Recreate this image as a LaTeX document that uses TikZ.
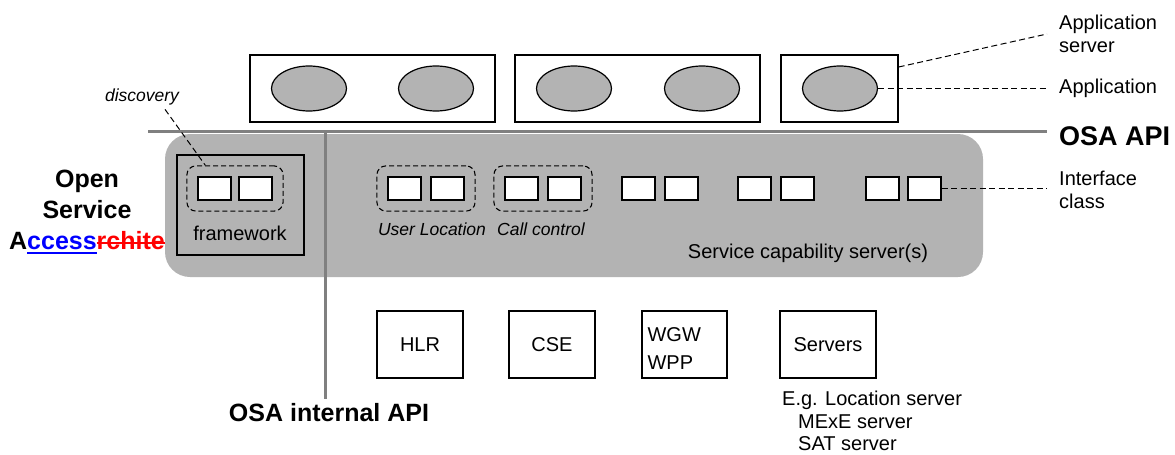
\documentclass[tikz,border=0pt]{standalone}
\usepackage{fontspec}
\setmainfont{Liberation Sans}
\usetikzlibrary{positioning,shapes.geometric,fit,calc}

\definecolor{scsgray}{RGB}{179,179,179}
\definecolor{apigray}{RGB}{128,128,128}

% thick underline and strike-out bars in the current colour
\newcommand{\ulbar}[1]{\setbox0\hbox{#1}\rlap{\rule[-4.5pt]{\wd0}{2pt}}\box0}
\newcommand{\strikebar}[1]{\setbox0\hbox{#1}\rlap{\rule[5.5pt]{\wd0}{2pt}}\box0}

\begin{document}
\begin{tikzpicture}[x=1pt,y=-1pt,
    every node/.style={inner sep=0pt, font=\fontsize{20}{23}\selectfont},
    plainbox/.style={draw, line width=1.2pt, fill=white},
    appnode/.style={ellipse, draw, line width=1.2pt, fill=scsgray,
      minimum width=75pt, minimum height=45pt},
    ifbox/.style={draw, line width=1.2pt, fill=white,
      minimum width=33pt, minimum height=23pt},
    ifgroup/.style={draw, dash pattern=on 5pt off 3pt, line width=1.1pt,
      rounded corners=9pt, inner sep=10.5pt},
    leader/.style={draw, dash pattern=on 6pt off 3.5pt, line width=1pt},
    apiline/.style={apigray, line width=3pt},
    bigbold/.style={font=\fontsize{25}{31}\selectfont\bfseries},
    itlabel/.style={font=\fontsize{17.5}{20}\selectfont\itshape}
  ]

    % Fix the page to the size of the original figure
    \useasboundingbox (0,0) rectangle (1175,455);

    % Service capability area (grey rounded block)
    \node[fill=scsgray, rounded corners=25pt,
      minimum width=818pt, minimum height=143pt] (scs) at (574,205.5) {};

    % OSA API line and OSA internal API line
    \coordinate (api-w) at (148,131);
    \coordinate (api-e) at (1047,131);
    \draw[apiline] (api-w) -- (api-e);
    \node[bigbold] (int-lbl) at (329,413) {OSA internal API};
    \coordinate (int-n) at (325,131);
    \draw[apiline] (int-n) -- ($(int-n |- int-lbl.north)+(0,-5)$);

    % Application servers with their applications
    \node[plainbox, minimum width=245pt, minimum height=67pt] (as1) at (372.5,88.5) {};
    \node[plainbox, minimum width=245pt, minimum height=67pt] (as2) at (637.5,88.5) {};
    \node[plainbox, minimum width=117pt, minimum height=67pt] (as3) at (839.5,88.5) {};
    \node[appnode] (app1) at (309,88.5) {};
    \node[appnode] (app2) at (436,88.5) {};
    \node[appnode] (app3) at (574,88.5) {};
    \node[appnode] (app4) at (702,88.5) {};
    \node[appnode] (app5) at (840,88.5) {};

    % Framework with its discovery interface
    \node[draw, line width=1.2pt, minimum width=127pt, minimum height=100pt] (fw) at (240.5,205) {};
    \node[ifbox] (fw-a) at (214.5,188.5) {};
    \node[ifbox] (fw-b) at (255.5,188.5) {};
    \node[ifgroup, fit=(fw-a)(fw-b)] (fw-grp) {};
    \node (fw-lbl) at (240,233) {framework};
    \node[itlabel] (disc) at (142,97) {discovery};
    \draw[leader] ([xshift=23pt,yshift=-4pt]disc.south) -- ([xshift=19pt]fw-grp.north west);

    % Interface classes of the service capability servers
    \node[ifbox] (ul-a) at (404.5,188.5) {};
    \node[ifbox] (ul-b) at (447.5,188.5) {};
    \node[ifgroup, fit=(ul-a)(ul-b)] (ul-grp) {};
    \node[itlabel] (ul-lbl) at (432,229) {User Location};

    \node[ifbox] (cc-a) at (521.5,188.5) {};
    \node[ifbox] (cc-b) at (564.5,188.5) {};
    \node[ifgroup, fit=(cc-a)(cc-b)] (cc-grp) {};
    \node[itlabel] (cc-lbl) at (541,229) {Call control};

    \node[ifbox] (if3-a) at (638.5,188.5) {};
    \node[ifbox] (if3-b) at (681.5,188.5) {};
    \node[ifbox] (if4-a) at (754.5,188.5) {};
    \node[ifbox] (if4-b) at (797.5,188.5) {};
    \node[ifbox] (if5-a) at (882.5,188.5) {};
    \node[ifbox] (if5-b) at (924.5,188.5) {};

    \node (scs-lbl) at (808,253) {Service capability server(s)};

    % Labels on the right
    \node[anchor=west, align=left] (as-lbl) at (1059,34) {Application\\server};
    \node[anchor=west] (app-lbl) at (1059,88) {Application};
    \node[anchor=west, font=\fontsize{27}{31}\selectfont\bfseries] (api-lbl) at (1059,136) {OSA API};
    \node[anchor=west, align=left] (if-lbl) at (1059,190) {Interface\\class};
    \draw[leader] ([yshift=21.5pt]as3.east) -- ([xshift=-12pt]as-lbl.west);
    \draw[leader] (app5.east) -- ($(app5.east -| app-lbl.west)+(-12,0)$);
    \draw[leader] (if5-b.east) -- ($(if5-b.east -| if-lbl.west)+(-12,0)$);

    % Open Service Access title
    \node[bigbold, align=center] (osa-lbl) at (87,212)
      {Open\\Service\\A{\color{blue}\ulbar{ccess}}{\color{red}\strikebar{rchite}}};

    % Network servers
    \node[plainbox, minimum width=86pt, minimum height=67pt] (hlr) at (420,344.5) {HLR};
    \node[plainbox, minimum width=86pt, minimum height=67pt] (cse) at (552,344.5) {CSE};
    \node[plainbox, minimum width=85pt, minimum height=67pt] (wgw) at (684.5,344.5) {};
    \node[anchor=west, align=left, font=\fontsize{20}{28}\selectfont] (wgw-lbl)
      at ([xshift=6pt,yshift=-4pt]wgw.west) {WGW\\WPP};
    \node[plainbox, minimum width=96pt, minimum height=67pt] (srv) at (828,344.5) {Servers};
    \node[anchor=north west, align=left, font=\fontsize{20}{22.5}\selectfont] (eg) at (782,391)
      {E.g. Location server\\\hspace*{16pt}MExE server\\\hspace*{16pt}SAT server};

\end{tikzpicture}
\end{document}
